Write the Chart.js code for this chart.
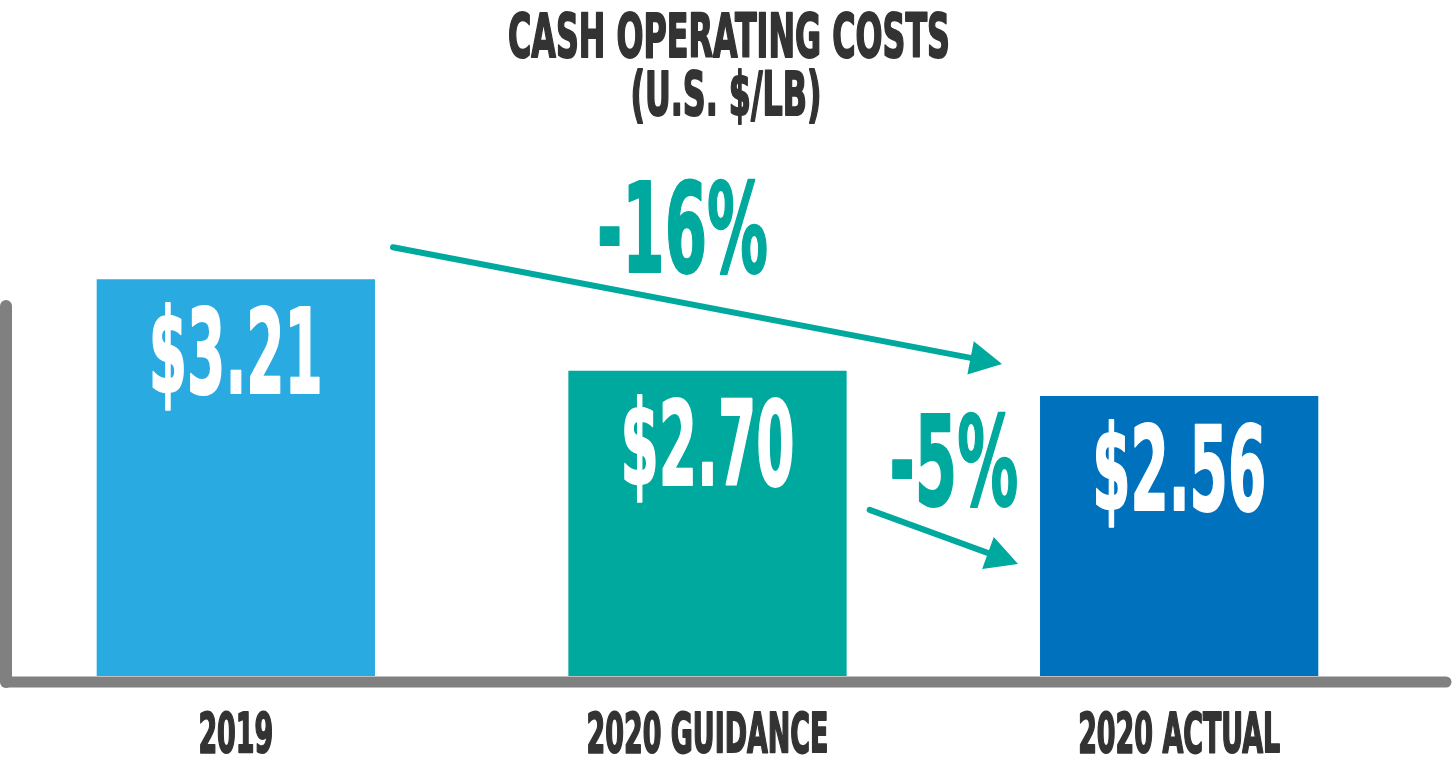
<!DOCTYPE html>
<html>
<head>
<meta charset="utf-8">
<title>Cash Operating Costs</title>
<script src="https://cdn.jsdelivr.net/npm/chart.js@4.4.1/dist/chart.umd.min.js"></script>
<style>
  html, body { margin: 0; padding: 0; background: #fff; }
  #wrap { width: 1452px; height: 768px; }
</style>
</head>
<body>
<div id="wrap"><canvas id="costChart" width="1452" height="768"></canvas></div>
<script>
// data
const categories = ["2019", "2020 GUIDANCE", "2020 ACTUAL"];
const costs = [3.21, 2.70, 2.56];
const valueLabels = ["$3.21", "$2.70", "$2.56"];
const barColors = ["#29abe2", "#00a99d", "#0071bc"];
const changeLabels = ["-16%", "-5%"];
const titleLines = ["CASH OPERATING COSTS", "(U.S. $/LB)"];

const FONT = "'Liberation Sans Narrow', 'DejaVu Sans Condensed', 'DejaVu Sans', sans-serif";
const TEAL = "#00a99d";
const INK = "#333333";
const AXIS = "#808080";

// horizontal squeeze so that sample text ends up at the given width
function squeezeFor(ctx, size, sample, width) {
  ctx.font = "bold " + size + "px " + FONT;
  return width / ctx.measureText(sample).width;
}

// condensed bold text, centered on cx
function drawSqueezed(ctx, text, cx, baseline, size, sx, color) {
  ctx.save();
  ctx.font = "bold " + size + "px " + FONT;
  ctx.translate(cx, baseline);
  ctx.scale(sx, 1);
  ctx.fillStyle = color;
  ctx.strokeStyle = color;
  ctx.lineWidth = 2;
  ctx.lineJoin = "round";
  ctx.textAlign = "center";
  ctx.textBaseline = "alphabetic";
  ctx.fillText(text, 0, 0);
  ctx.strokeText(text, 0, 0);
  ctx.restore();
}

function drawArrow(ctx, x1, y1, x2, y2) {
  const a = Math.atan2(y2 - y1, x2 - x1);
  const headLen = 32, headHalf = 17;
  const bx = x2 - headLen * Math.cos(a);
  const by = y2 - headLen * Math.sin(a);
  ctx.save();
  ctx.strokeStyle = TEAL;
  ctx.fillStyle = TEAL;
  ctx.lineWidth = 6;
  ctx.lineCap = "round";
  ctx.beginPath();
  ctx.moveTo(x1, y1);
  ctx.lineTo(bx + 4 * Math.cos(a), by + 4 * Math.sin(a));
  ctx.stroke();
  ctx.beginPath();
  ctx.moveTo(x2, y2);
  ctx.lineTo(bx + headHalf * Math.sin(a), by - headHalf * Math.cos(a));
  ctx.lineTo(bx - headHalf * Math.sin(a), by + headHalf * Math.cos(a));
  ctx.closePath();
  ctx.fill();
  ctx.restore();
}

// axes (thick grey, rounded ends)
const axisLines = {
  id: "axisLines",
  beforeDatasetsDraw(chart) {
    const ctx = chart.ctx;
    const area = chart.chartArea;
    ctx.save();
    ctx.strokeStyle = AXIS;
    ctx.lineCap = "round";
    ctx.lineWidth = 12;
    ctx.beginPath();
    ctx.moveTo(area.left + 6, area.top + 156);
    ctx.lineTo(area.left + 6, area.bottom + 6);
    ctx.stroke();
    ctx.lineWidth = 11;
    ctx.beginPath();
    ctx.moveTo(area.left + 6, area.bottom + 6);
    ctx.lineTo(chart.width - 6, area.bottom + 6);
    ctx.stroke();
    ctx.restore();
  }
};

// title, value labels, category labels, change arrows
const annotations = {
  id: "annotations",
  afterDatasetsDraw(chart) {
    const ctx = chart.ctx;
    const bars = chart.getDatasetMeta(0).data;
    const cx = chart.width / 2;

    // title
    const tSx = squeezeFor(ctx, 61, titleLines[0], 442);
    drawSqueezed(ctx, titleLines[0], cx + 3, 57, 61, tSx, INK);
    drawSqueezed(ctx, titleLines[1], cx, 115, 61, tSx, INK);

    // values inside the bars
    const vSx = squeezeFor(ctx, 117, valueLabels[1], 174);
    bars.forEach((bar, i) => {
      drawSqueezed(ctx, valueLabels[i], bar.x, bar.y + 114, 117, vSx, "#ffffff");
    });

    // category labels under the axis
    const cSx = squeezeFor(ctx, 56, categories[1], 242);
    bars.forEach((bar, i) => {
      drawSqueezed(ctx, categories[i], bar.x, chart.chartArea.bottom + 76, 56, cSx, INK);
    });

    // arrows
    const b0 = bars[0], b1 = bars[1], b2 = bars[2];
    const r0 = b0.x + b0.width / 2, r1 = b1.x + b1.width / 2, l2 = b2.x - b2.width / 2;
    const a1 = { x1: r0 + 18, y1: b0.y - 32, x2: l2 - 38, y2: b2.y - 32 };
    const a2 = { x1: r1 + 23, y1: b1.y + 139, x2: l2 - 22, y2: b2.y + 168 };
    drawArrow(ctx, a1.x1, a1.y1, a1.x2, a1.y2);
    drawArrow(ctx, a2.x1, a2.y1, a2.x2, a2.y2);

    const pSx = squeezeFor(ctx, 124, changeLabels[0], 171);
    drawSqueezed(ctx, changeLabels[0], (a1.x1 + a1.x2) / 2 - 15, a1.y1 + 25, 124, pSx, TEAL);
    drawSqueezed(ctx, changeLabels[1], (a2.x1 + a2.x2) / 2 + 10, a2.y1 - 5, 124, pSx, TEAL);
  }
};

new Chart(document.getElementById("costChart"), {
  type: "bar",
  data: {
    labels: categories,
    datasets: [{
      label: "Cash operating costs (U.S. $/lb)",
      data: costs,
      backgroundColor: barColors,
      borderWidth: 0,
      barPercentage: 0.59,
      categoryPercentage: 1
    }]
  },
  options: {
    responsive: false,
    animation: false,
    devicePixelRatio: 1,
    layout: {
      padding: { top: 150, bottom: 92, left: 0, right: 37 }
    },
    scales: {
      x: { display: false },
      y: { display: false, min: 1, max: 3.93 }
    },
    plugins: {
      legend: { display: false },
      title: { display: false },
      tooltip: { enabled: false }
    }
  },
  plugins: [axisLines, annotations]
});
</script>
</body>
</html>
